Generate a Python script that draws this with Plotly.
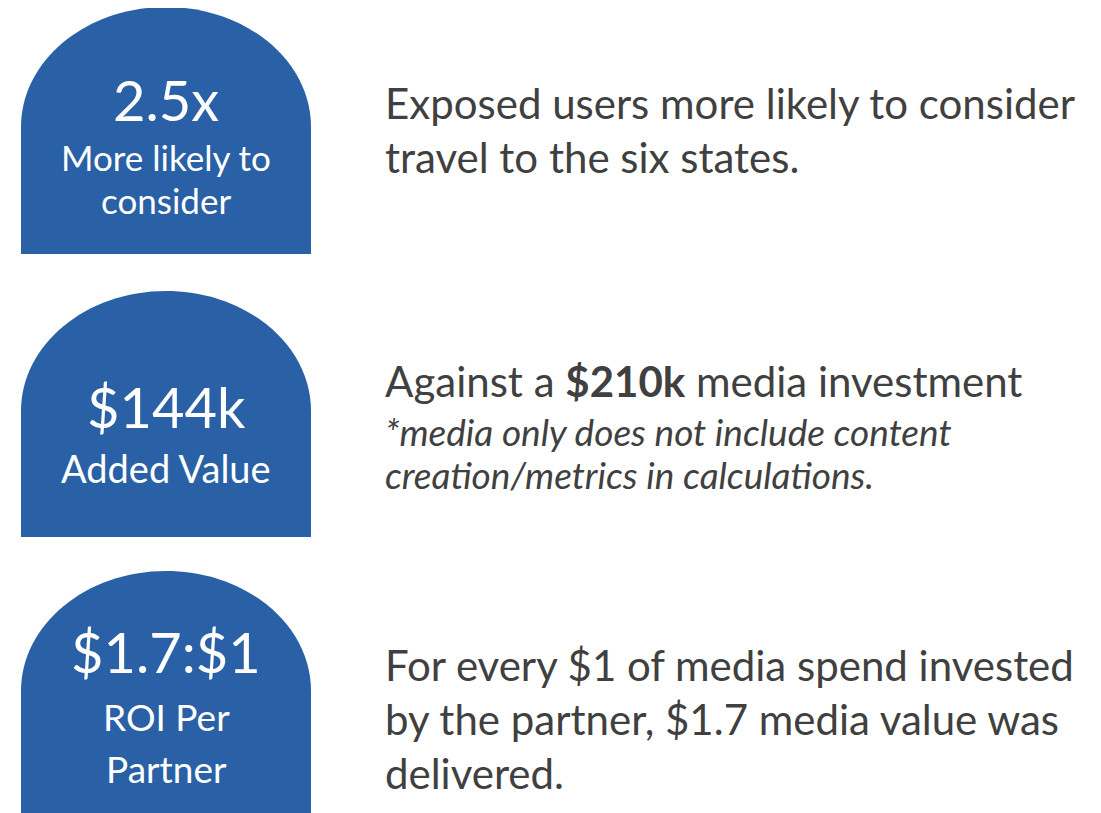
import plotly.graph_objects as go

# headline figures shown inside the blue arches
headlines = ["2.5x", "$144k", "$1.7:$1"]
captions = [["More likely to", "consider"], ["Added Value"], ["ROI Per", "Partner"]]

# explanatory text to the right of each arch
descriptions = [
    ["Exposed users more likely to consider", "travel to the six states."],
    ["Against a <b>$210k</b> media investment"],
    ["For every $1 of media spend invested", "by the partner, $1.7 media value was", "delivered."],
]
footnotes = [[], ["<i>*media only does not include content</i>", "<i>creation/metrics in calculations.</i>"], []]

W, H = 1101, 813
OFF = 8  # page body margin that the html puts around the plot
BLUE = "#2A61A6"
GREY = "#404040"
FONT = "Lato"

# arch geometry (pixels, y down)
arch_left, arch_right = 21, 311
arch_tops = [7, 291, 571]
arch_bottoms = [254, 537, 840]
arch_ry = 120

# text rows (pixel centre of each line)
head_y = [99, 406, 651]
cap_y = [[157, 200], [468], [716, 768]]
cap_size = [35, 38, 37]
desc_y = [[103, 157], [381], [665, 719, 773]]
foot_y = [[], [431, 474], []]


def arch_path(x0, x1, top, bottom, ry):
    k = 0.5523
    cx = (x0 + x1) / 2
    rx = (x1 - x0) / 2
    yc = top + ry
    return (f"M {x0},{bottom} L {x0},{yc} "
            f"C {x0},{yc - k * ry} {cx - k * rx},{top} {cx},{top} "
            f"C {cx + k * rx},{top} {x1},{yc - k * ry} {x1},{yc} "
            f"L {x1},{bottom} Z")


fig = go.Figure()
fig.add_trace(go.Scatter(x=[0, W], y=[0, H], mode="markers", marker=dict(opacity=0), hoverinfo="skip"))

cx = (arch_left + arch_right) / 2
for i in range(len(headlines)):
    fig.add_shape(type="path", path=arch_path(arch_left, arch_right, arch_tops[i], arch_bottoms[i], arch_ry),
                  fillcolor=BLUE, line=dict(width=0), layer="below")
    fig.add_annotation(x=cx, y=head_y[i], text=headlines[i], showarrow=False, xanchor="center", yanchor="middle",
                       font=dict(family=FONT, size=56, color="white"))
    for txt, y in zip(captions[i], cap_y[i]):
        fig.add_annotation(x=cx, y=y, text=txt, showarrow=False, xanchor="center", yanchor="middle",
                           font=dict(family=FONT, size=cap_size[i], color="white"))
    for txt, y in zip(descriptions[i], desc_y[i]):
        fig.add_annotation(x=383, y=y, text=txt, showarrow=False, xanchor="left", yanchor="middle",
                           font=dict(family=FONT, size=42, color=GREY))
    for txt, y in zip(footnotes[i], foot_y[i]):
        fig.add_annotation(x=383, y=y, text=txt, showarrow=False, xanchor="left", yanchor="middle",
                           font=dict(family=FONT, size=37, color=GREY))

fig.update_xaxes(range=[OFF, W + OFF], visible=False, fixedrange=True)
fig.update_yaxes(range=[H + OFF, OFF], visible=False, fixedrange=True)
fig.update_layout(width=W, height=H, margin=dict(l=0, r=0, t=0, b=0),
                  plot_bgcolor="white", paper_bgcolor="white", showlegend=False)

fig.write_html("out.html", config={"displayModeBar": False})
